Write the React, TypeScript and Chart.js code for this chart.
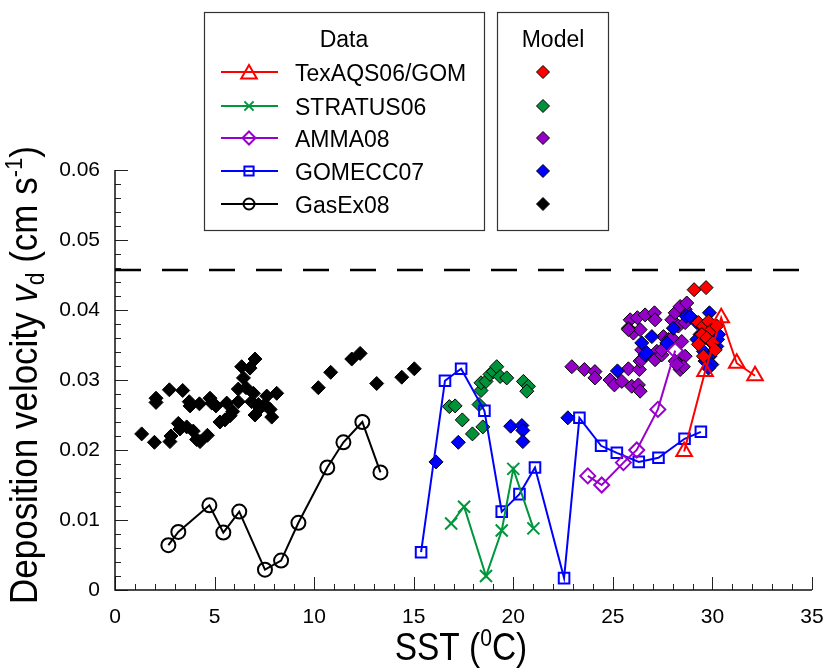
import React, { useEffect, useRef } from 'react';
import { Chart, registerables } from 'chart.js';

Chart.register(...registerables);

const FONT = '"Liberation Sans", Arial, Helvetica, sans-serif';

// ---- axes ----
const xTicks = [0, 5, 10, 15, 20, 25, 30, 35];
const xTickLabels = ['0', '5', '10', '15', '20', '25', '30', '35'];
const yTicks = [0, 0.01, 0.02, 0.03, 0.04, 0.05, 0.06];
const yTickLabels = ['0', '0.01', '0.02', '0.03', '0.04', '0.05', '0.06'];
const xMinorStep = 1;
const yMinorStep = 0.002;
const limitValue = 0.0457;

// ---- legend ----
const dataNames = ['TexAQS06/GOM', 'STRATUS06', 'AMMA08', 'GOMECC07', 'GasEx08'];
const dataColors = ['#ff0000', '#00963c', '#9900cc', '#0000ff', '#000000'];
const dataStyles = ['triangle', 'crossRot', 'rectRot', 'rect', 'circle'];
const modelColors = ['#ff0000', '#00913a', '#9400c8', '#0000ff', '#000000'];

// ---- observed data (SST, vd) ----
const texaqsData = [[28.58, 0.0198], [29.63, 0.0312], [30.44, 0.0389], [31.22, 0.0324], [32.14, 0.0306]];
const stratusData = [[16.88, 0.0095], [17.53, 0.0119], [18.63, 0.0020], [19.42, 0.0085], [20.0, 0.0173], [21.01, 0.0088]];
const ammaData = [[23.74, 0.0163], [24.44, 0.0150], [25.53, 0.0182], [26.2, 0.0200], [27.26, 0.0258], [28.13, 0.0342]];
const gomeccData = [
  [15.37, 0.0054], [16.57, 0.0299], [17.38, 0.0316], [18.55, 0.0256], [19.42, 0.0112], [20.31, 0.0137],
  [21.09, 0.0175], [22.55, 0.0017], [23.32, 0.0246], [24.41, 0.0206], [25.2, 0.0196], [26.3, 0.0183],
  [27.29, 0.0189], [28.6, 0.0216], [29.42, 0.0226],
];
const gasexData = [
  [2.68, 0.0064], [3.18, 0.0083], [4.74, 0.0121], [5.44, 0.0082], [6.24, 0.0112], [7.53, 0.0029],
  [8.34, 0.0042], [9.21, 0.0096], [10.66, 0.0175], [11.47, 0.0211], [12.42, 0.0240], [13.33, 0.0168],
];

// ---- model values (SST, vd) ----
const modelTexaqs = [
  [29.08, 0.0429], [29.68, 0.0432], [29.3, 0.0382], [29.55, 0.0377], [29.8, 0.0384], [29.97, 0.0372],
  [29.47, 0.0365], [29.72, 0.0360], [30.02, 0.0353], [29.3, 0.0351], [29.55, 0.0334], [30.14, 0.0343],
  [30.22, 0.0377],
];
const modelStratus = [
  [16.79, 0.0262], [17.08, 0.0263], [17.44, 0.0243], [17.95, 0.0223], [18.28, 0.0265], [18.38, 0.0285],
  [18.38, 0.0296], [18.47, 0.0233], [18.63, 0.0298], [18.83, 0.0308], [19.0, 0.0312], [19.17, 0.0319],
  [19.34, 0.0305], [19.67, 0.0303], [20.51, 0.0298], [20.76, 0.0291], [20.68, 0.0284],
];
const modelAmma = [
  [22.94, 0.0319], [23.57, 0.0315], [24.1, 0.0312], [24.1, 0.0303], [24.86, 0.0300], [25.08, 0.0293],
  [25.45, 0.0298], [25.78, 0.0316], [25.95, 0.0291], [26.28, 0.0293], [26.37, 0.0284], [26.33, 0.0315],
  [26.37, 0.0327], [26.45, 0.0343], [25.87, 0.0386], [25.78, 0.0374], [26.03, 0.0367], [26.23, 0.0389],
  [26.37, 0.0372], [26.62, 0.0393], [27.09, 0.0396], [27.12, 0.0386], [27.54, 0.0362], [27.21, 0.0341],
  [27.12, 0.0329], [27.46, 0.0336], [27.79, 0.0358], [27.96, 0.0386], [28.13, 0.0396], [28.29, 0.0377],
  [28.46, 0.0355], [28.13, 0.0327], [28.38, 0.0315], [28.63, 0.0334], [28.63, 0.0401], [28.38, 0.0405],
  [28.71, 0.0410], [28.63, 0.0382], [28.54, 0.0319], [27.96, 0.0360], [26.45, 0.0329], [27.46, 0.0343],
  [28.21, 0.0322], [25.78, 0.0372],
];
const modelGomecc = [
  [16.12, 0.0183], [17.24, 0.0211], [19.87, 0.0234], [20.43, 0.0235], [20.48, 0.0228], [20.48, 0.0212],
  [22.74, 0.0246], [25.23, 0.0313], [26.45, 0.0353], [26.96, 0.0362], [26.62, 0.0336], [28.04, 0.0374],
  [27.71, 0.0353], [28.68, 0.0391], [29.85, 0.0396], [28.88, 0.0391], [29.22, 0.0382], [29.97, 0.0353],
  [30.22, 0.0348], [29.55, 0.0341], [29.88, 0.0334], [29.63, 0.0327], [29.97, 0.0322], [30.26, 0.0358],
  [30.31, 0.0365], [29.8, 0.0317], [29.38, 0.0365], [29.97, 0.0372], [30.05, 0.0355], [29.22, 0.0358],
  [26.7, 0.0339],
];
const modelGasex = [
  [1.34, 0.0223], [1.98, 0.0211], [2.06, 0.0274], [2.06, 0.0268], [2.73, 0.0286], [2.76, 0.0212],
  [2.81, 0.0220], [3.18, 0.0238], [3.26, 0.0230], [3.40, 0.0285], [3.60, 0.0233], [3.73, 0.0269],
  [3.77, 0.0263], [3.93, 0.0227], [4.10, 0.0215], [4.24, 0.0266], [4.27, 0.0212], [4.64, 0.0221],
  [4.77, 0.0274], [4.86, 0.0267], [5.07, 0.0263], [5.27, 0.0240], [5.52, 0.0243], [5.61, 0.0267],
  [5.78, 0.0249], [5.91, 0.0255], [6.19, 0.0269], [6.19, 0.0287], [6.36, 0.0319], [6.45, 0.0303],
  [6.58, 0.0289], [6.78, 0.0317], [6.86, 0.0269], [6.95, 0.0281], [7.03, 0.0330], [7.03, 0.0250],
  [7.20, 0.0265], [7.28, 0.0260], [7.53, 0.0265], [7.62, 0.0277], [7.79, 0.0258], [7.87, 0.0247],
  [8.12, 0.0281], [10.21, 0.0289], [10.83, 0.0311], [11.89, 0.0330], [12.31, 0.0338], [13.14, 0.0295],
  [14.40, 0.0304], [15.03, 0.0316],
];

const observed = [texaqsData, stratusData, ammaData, gomeccData, gasexData];
const models = [modelTexaqs, modelStratus, modelAmma, modelGomecc, modelGasex];
const markerRadius = [9, 8.5, 7.5, 7.5, 7];

const toXY = (arr: number[][]) => arr.map(([x, y]) => ({ x, y }));

function markerPath(ctx: CanvasRenderingContext2D, style: string, x: number, y: number, r: number) {
  ctx.beginPath();
  if (style === 'triangle') {
    ctx.moveTo(x, y - r);
    ctx.lineTo(x + r * 0.866, y + r / 2);
    ctx.lineTo(x - r * 0.866, y + r / 2);
    ctx.closePath();
  } else if (style === 'crossRot') {
    const d = r * 0.707;
    ctx.moveTo(x - d, y - d);
    ctx.lineTo(x + d, y + d);
    ctx.moveTo(x - d, y + d);
    ctx.lineTo(x + d, y - d);
  } else if (style === 'rectRot') {
    ctx.moveTo(x - r, y);
    ctx.lineTo(x, y - r);
    ctx.lineTo(x + r, y);
    ctx.lineTo(x, y + r);
    ctx.closePath();
  } else if (style === 'rect') {
    const s = r * 0.707;
    ctx.rect(x - s, y - s, 2 * s, 2 * s);
  } else {
    ctx.arc(x, y, r, 0, Math.PI * 2);
  }
}

type Part = { text: string; font: string; dy: number };
function drawRich(ctx: CanvasRenderingContext2D, parts: Part[]) {
  let total = 0;
  const widths = parts.map((p) => {
    ctx.font = p.font;
    const w = ctx.measureText(p.text).width;
    total += w;
    return w;
  });
  let x = -total / 2;
  parts.forEach((p, i) => {
    ctx.font = p.font;
    ctx.fillText(p.text, x, p.dy);
    x += widths[i];
  });
}

const decorPlugin = {
  id: 'decor',
  beforeDatasetsDraw(chart: any) {
    const ctx: CanvasRenderingContext2D = chart.ctx;
    const { left, right, top, bottom } = chart.chartArea;
    const xs = chart.scales.x;
    const ys = chart.scales.y;
    ctx.save();
    ctx.strokeStyle = '#222';
    ctx.lineWidth = 1;
    ctx.beginPath();
    const nx = Math.round(35 / xMinorStep);
    for (let i = 0; i <= nx; i++) {
      const v = i * xMinorStep;
      const px = Math.round(xs.getPixelForValue(v)) + 0.5;
      const len = i % 5 === 0 ? 13 : 6;
      ctx.moveTo(px, bottom);
      ctx.lineTo(px, bottom - len);
    }
    const ny = Math.round(0.06 / yMinorStep);
    for (let i = 0; i <= ny; i++) {
      const v = i * yMinorStep;
      const py = Math.round(ys.getPixelForValue(v)) + 0.5;
      const len = i % 5 === 0 ? 13 : 6;
      ctx.moveTo(left, py);
      ctx.lineTo(left + len, py);
    }
    ctx.stroke();
    ctx.lineWidth = 1.5;
    ctx.strokeStyle = '#111';
    ctx.beginPath();
    ctx.moveTo(left, top);
    ctx.lineTo(left, bottom);
    ctx.lineTo(right, bottom);
    ctx.stroke();
    ctx.restore();
  },
  afterDraw(chart: any) {
    const ctx: CanvasRenderingContext2D = chart.ctx;
    ctx.save();
    ctx.fillStyle = '#000';
    ctx.textBaseline = 'alphabetic';

    // y title
    ctx.save();
    ctx.translate(37, 375);
    ctx.rotate(-Math.PI / 2);
    ctx.scale(0.92, 1);
    drawRich(ctx, [
      { text: 'Deposition velocity ', font: `38px ${FONT}`, dy: 0 },
      { text: 'v', font: `italic 38px ${FONT}`, dy: 0 },
      { text: 'd', font: `25px ${FONT}`, dy: 7 },
      { text: ' (cm s', font: `38px ${FONT}`, dy: 0 },
      { text: '-1', font: `24px ${FONT}`, dy: -15 },
      { text: ')', font: `38px ${FONT}`, dy: 0 },
    ]);
    ctx.restore();

    // x title
    ctx.save();
    ctx.translate(461, 660);
    ctx.scale(0.88, 1);
    drawRich(ctx, [
      { text: 'SST (', font: `38px ${FONT}`, dy: 0 },
      { text: '0', font: `24px ${FONT}`, dy: -14 },
      { text: 'C)', font: `38px ${FONT}`, dy: 0 },
    ]);
    ctx.restore();

    // legend boxes
    ctx.strokeStyle = '#333';
    ctx.lineWidth = 1.2;
    ctx.strokeRect(204.5, 12.5, 280, 218);
    ctx.strokeRect(497.5, 12.5, 111, 218);

    ctx.font = `23px ${FONT}`;
    ctx.textAlign = 'center';
    ctx.fillText('Data', 344, 47);
    ctx.fillText('Model', 553, 47);

    const rows = [72, 106, 138, 171, 204];
    const legR = [9, 6.5, 6.5, 6.5, 5.5];
    ctx.textAlign = 'left';
    dataNames.forEach((name, i) => {
      const y = rows[i];
      ctx.strokeStyle = dataColors[i];
      ctx.lineWidth = 2;
      ctx.beginPath();
      ctx.moveTo(221, y);
      ctx.lineTo(278, y);
      ctx.stroke();
      markerPath(ctx, dataStyles[i], 249, i === 0 ? y + 2 : y, legR[i]);
      ctx.stroke();
      ctx.fillStyle = '#000';
      ctx.font = `23px ${FONT}`;
      ctx.fillText(name, 295, y + 8.5);
      // model diamond
      markerPath(ctx, 'rectRot', 543, y, 6.5);
      ctx.fillStyle = modelColors[i];
      ctx.fill();
      ctx.strokeStyle = '#000';
      ctx.lineWidth = 1;
      ctx.stroke();
    });
    ctx.restore();
  },
};

export default function App() {
  const ref = useRef<HTMLCanvasElement | null>(null);
  useEffect(() => {
    if (!ref.current) return;
    const lineSets = observed.map((arr, i) => ({
      label: dataNames[i],
      data: toXY(arr),
      showLine: true,
      borderColor: dataColors[i],
      borderWidth: 2,
      pointStyle: dataStyles[i],
      pointRadius: markerRadius[i],
      pointBorderColor: dataColors[i],
      pointBackgroundColor: 'rgba(0,0,0,0)',
      pointBorderWidth: 2,
      order: 0,
    }));
    const modelDrawOrder = [0, 3, 2, 1, 4]; // red on top ... black bottom
    const modelSets = modelDrawOrder.map((k, j) => ({
      label: 'Model ' + dataNames[k],
      data: toXY(models[k]),
      showLine: false,
      pointStyle: 'rectRot',
      pointRadius: 7,
      backgroundColor: modelColors[k],
      borderColor: '#000',
      borderWidth: 1,
      order: 1 + j,
    }));
    const limitSet = {
      label: 'limit',
      data: [
        { x: 0, y: limitValue },
        { x: 35, y: limitValue },
      ],
      showLine: true,
      borderColor: '#000',
      borderWidth: 2.5,
      borderDash: [26, 21],
      pointRadius: 0,
      order: 20,
    };
    const chart = new Chart(ref.current, {
      type: 'scatter',
      data: { datasets: [...lineSets, ...modelSets, limitSet] as any },
      options: {
        animation: false,
        responsive: false,
        maintainAspectRatio: false,
        devicePixelRatio: 1,
        events: [],
        layout: { padding: { top: 170, right: 0, left: 0, bottom: 0 } },
        plugins: { legend: { display: false }, tooltip: { enabled: false } },
        scales: {
          x: {
            type: 'linear',
            min: 0,
            max: 35,
            afterBuildTicks: (s: any) => {
              s.ticks = xTicks.map((v) => ({ value: v }));
            },
            afterFit: (s: any) => {
              s.height = 81;
              s.paddingLeft = 0;
              s.paddingRight = 13;
            },
            grid: { display: false, drawTicks: false },
            border: { display: false },
            ticks: {
              color: '#000',
              font: { family: FONT, size: 21 },
              padding: 15,
              maxRotation: 0,
              autoSkip: false,
              callback: (_v: any, i: number) => xTickLabels[i],
            },
          },
          y: {
            type: 'linear',
            min: 0,
            max: 0.06,
            afterBuildTicks: (s: any) => {
              s.ticks = yTicks.map((v) => ({ value: v }));
            },
            afterFit: (s: any) => {
              s.width = 115;
              s.paddingTop = 0;
              s.paddingBottom = 0;
            },
            grid: { display: false, drawTicks: false },
            border: { display: false },
            ticks: {
              color: '#000',
              font: { family: FONT, size: 21 },
              padding: 15,
              autoSkip: false,
              callback: (_v: any, i: number) => yTickLabels[i],
            },
          },
        },
      } as any,
      plugins: [decorPlugin as any],
    });
    return () => chart.destroy();
  }, []);
  return (
    <div style={{ position: 'fixed', left: 0, top: 0, width: 825, height: 671, background: '#fff' }}>
      <canvas ref={ref} width={825} height={671} style={{ display: 'block', width: 825, height: 671 }} />
    </div>
  );
}
